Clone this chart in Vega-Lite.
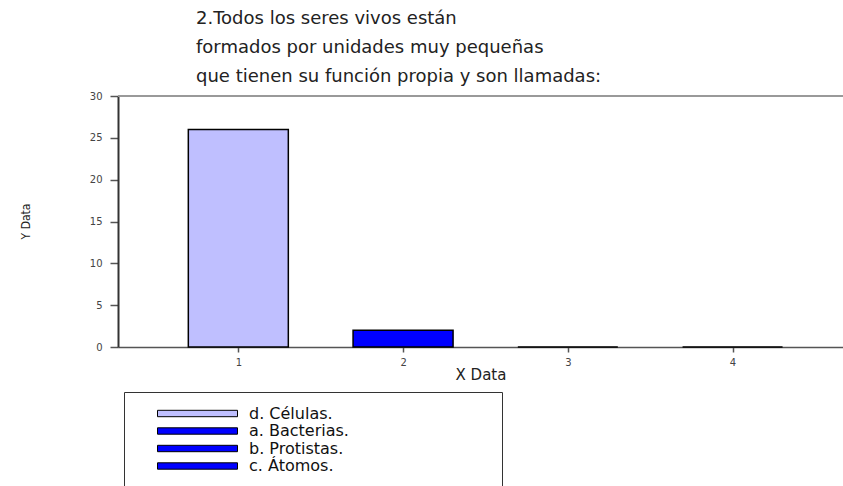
{
  "$schema": "https://vega.github.io/schema/vega-lite/v6.json",
  "width": 725,
  "height": 251,
  "autosize": {"type": "none"},
  "padding": {"left": 118, "top": 96, "right": 0, "bottom": 139},
  "background": "white",
  "title": {
    "text": ["2.Todos los seres vivos están", " formados por unidades muy pequeñas", "que tienen su función propia y son llamadas:"],
    "anchor": "start",
    "frame": "group",
    "dx": 78,
    "fontSize": 18,
    "font": "DejaVu Sans",
    "fontWeight": "normal",
    "color": "#222",
    "lineHeight": 29,
    "offset": 5
  },
  "config": {"view": {"stroke": null}},
  "data": {
    "values": [
      {"x": 1, "value": 26, "respuesta": "d. Células."},
      {"x": 2, "value": 2, "respuesta": "a. Bacterias."},
      {"x": 3, "value": 0, "respuesta": "b. Protistas."},
      {"x": 4, "value": 0, "respuesta": "c. Átomos."}
    ]
  },
  "layer": [
    {
      "mark": {"type": "bar", "width": 100, "stroke": "black", "strokeWidth": 1.5},
      "encoding": {
        "x": {
          "field": "x",
          "type": "quantitative",
          "scale": {"domain": [0.3, 4.64], "nice": false, "zero": false},
          "axis": {
            "title": "X Data",
            "values": [1, 2, 3, 4],
            "grid": false,
            "domainColor": "#555",
            "domainWidth": 1.5,
            "tickColor": "#555",
            "tickWidth": 1.5,
            "tickSize": 5,
            "labelFont": "DejaVu Sans",
            "labelFontSize": 10,
            "labelColor": "#444",
            "labelPadding": 5,
            "titleFont": "DejaVu Sans",
            "titleFontSize": 15,
            "titleFontWeight": "normal",
            "titleColor": "#222",
            "titlePadding": 0
          }
        },
        "y": {
          "field": "value",
          "type": "quantitative",
          "scale": {"domain": [0, 30], "nice": false},
          "axis": {
            "title": "Y Data",
            "values": [0, 5, 10, 15, 20, 25, 30],
            "grid": false,
            "domainColor": "#333",
            "domainWidth": 2,
            "tickColor": "#555",
            "tickWidth": 1.5,
            "tickSize": 8,
            "labelFont": "DejaVu Sans",
            "labelFontSize": 10,
            "labelColor": "#444",
            "labelPadding": 8,
            "titleFont": "DejaVu Sans Condensed",
            "titleFontSize": 12,
            "titleFontWeight": "normal",
            "titleColor": "#222",
            "titleX": -93,
            "titleY": 125,
            "titleAlign": "center",
            "titleBaseline": "middle",
            "titleAngle": -90
          }
        },
        "color": {
          "field": "respuesta",
          "type": "nominal",
          "scale": {
            "domain": ["d. Células.", "a. Bacterias.", "b. Protistas.", "c. Átomos."],
            "range": ["#BFBFFF", "#0000FF", "#0000FF", "#0000FF"]
          },
          "legend": {
            "orient": "none",
            "legendX": 6,
            "legendY": 296,
            "title": " ",
            "titleOrient": "right",
            "titlePadding": 140,
            "padding": 13,
            "strokeColor": "#333",
            "fillColor": "white",
            "symbolType": "M-5,-0.4H5V0.4H-5Z",
            "symbolSize": 256,
            "symbolStrokeColor": "black",
            "symbolStrokeWidth": 1,
            "symbolOpacity": 1,
            "symbolOffset": 52,
            "labelOffset": 43,
            "labelFont": "DejaVu Sans",
            "labelFontSize": 16,
            "labelColor": "#111",
            "rowPadding": 0.5
          }
        }
      }
    },
    {
      "mark": {"type": "rule", "color": "#999", "strokeWidth": 1.5},
      "encoding": {"y": {"datum": 30, "type": "quantitative"}}
    }
  ]
}
